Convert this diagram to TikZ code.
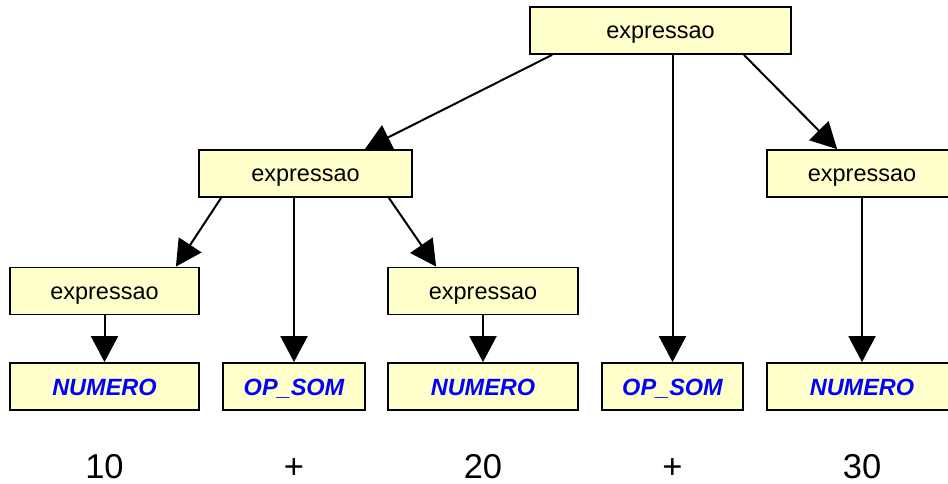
\documentclass[tikz,border=0pt]{standalone}
\usepackage{fontspec}
\setmainfont{Liberation Sans}
\usetikzlibrary{arrows.meta,calc}
\definecolor{boxfill}{HTML}{FFFFCC}
\definecolor{tokblue}{HTML}{0000FF}
\tikzset{
  treebox/.style={draw=black, line width=1.8pt, fill=boxfill, inner sep=0pt,
    minimum height=47pt, text height=17pt, text depth=0pt,
    font=\fontsize{23.5}{28}\selectfont},
  tokbox/.style={treebox, text=tokblue,
    font=\fontsize{23.5}{28}\selectfont\bfseries\itshape},
  conn/.style={line width=2pt, -{Triangle[length=26pt,width=27pt]}},
  lexeme/.style={anchor=base, inner sep=0pt, text depth=0pt,
    font=\fontsize{34.5}{40}\selectfont}
}
\begin{document}
\begin{tikzpicture}[x=1pt,y=-1pt]
  \clip (0,0) rectangle (948,484);
  \fill[white] (0,0) rectangle (948,484);

  % non-terminal nodes
  \node[treebox, minimum width=261pt] (top)  at (660.5,30.5)  {expressao};
  \node[treebox, minimum width=213pt] (midL) at (305.5,173.5) {expressao};
  \node[treebox, minimum width=190pt] (midR) at (862,173.5)   {expressao};
  \node[treebox, minimum width=189pt] (exL)  at (104.5,291)   {expressao};
  \node[treebox, minimum width=190pt] (exR)  at (483,291)     {expressao};

  % token nodes
  \node[tokbox, minimum width=189pt] (n1)  at (104.5,386.5) {NUMERO};
  \node[tokbox, minimum width=142pt] (op1) at (294,386.5)   {OP\_SOM};
  \node[tokbox, minimum width=190pt] (n2)  at (483,386.5)   {NUMERO};
  \node[tokbox, minimum width=141pt] (op2) at (672.5,386.5) {OP\_SOM};
  \node[tokbox, minimum width=190pt] (n3)  at (862,386.5)   {NUMERO};

  % lexemes
  \node[lexeme] (l1) at (104.5,478) {10};
  \node[lexeme] (l2) at (294,478)   {+};
  \node[lexeme] (l3) at (483,478)   {20};
  \node[lexeme] (l4) at (672.5,478) {+};
  \node[lexeme] (l5) at (862,478)   {30};

  % edges
  \draw[conn] ($(top.south west)+(23,0)$) -- ($(midL.north east)+(-48,0)$);
  \draw[conn] (top.south -| op2) -- (op2.north);
  \draw[conn] ($(top.south east)+(-48,0)$) -- ($(midR.north west)+(71,0)$);

  \draw[conn] ($(midL.south west)+(23,0)$) -- ($(exL.north east)+(-24,0)$);
  \draw[conn] (midL.south -| op1) -- (op1.north);
  \draw[conn] ($(midL.south east)+(-24,0)$) -- ($(exR.north west)+(49,0)$);

  \draw[conn] (midR.south) -- (n3.north);
  \draw[conn] (exL.south) -- (n1.north);
  \draw[conn] (exR.south) -- (n2.north);
\end{tikzpicture}
\end{document}
